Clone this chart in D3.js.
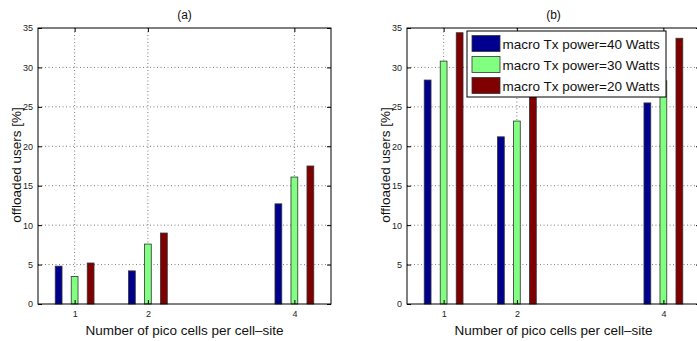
<!DOCTYPE html>
<html>
<head>
<meta charset="utf-8">
<script src="https://cdn.jsdelivr.net/npm/d3@7"></script>
<style>
body { margin: 0; background: #fff; }
svg { display: block; font-family: "Liberation Sans", Arial, sans-serif; }
</style>
</head>
<body>
<svg id="chart" width="697" height="341"></svg>
<script>
// data
var picoCells = [1, 2, 4];
var seriesNames = ["macro Tx power=40 Watts", "macro Tx power=30 Watts", "macro Tx power=20 Watts"];
var seriesColors = ["#00008f", "#80ff80", "#800000"];
var panelA = [
  [4.8, 4.2, 12.7],
  [3.5, 7.6, 16.1],
  [5.2, 9.0, 17.5]
];
var panelB = [
  [28.4, 21.2, 25.5],
  [30.8, 23.2, 28.3],
  [34.4, 29.5, 33.7]
];
var yTicks = [0, 5, 10, 15, 20, 25, 30, 35];
var titles = ["(a)", "(b)"];

var svg = d3.select("#chart");

var plotTop = 28, plotBottom = 304;
var y = d3.scaleLinear().domain([0, 35]).range([plotBottom, plotTop]);

function drawPanel(left, right, data, title, withLegend) {
  var x = d3.scaleLinear().domain([0.5, 4.5]).range([left, right]);
  var g = svg.append("g");
  var unit = x(2) - x(1);
  var offset = 16 / unit, barW = 6.8 / unit;

  // grid
  g.selectAll(".gy").data(yTicks.slice(1, -1)).enter().append("line")
    .attr("x1", left).attr("x2", right)
    .attr("y1", function(d) { return y(d); }).attr("y2", function(d) { return y(d); })
    .attr("stroke", "#444").attr("stroke-width", 0.7).attr("stroke-dasharray", "1,2.5");
  g.selectAll(".gx").data(picoCells).enter().append("line")
    .attr("x1", function(d) { return x(d); }).attr("x2", function(d) { return x(d); })
    .attr("y1", plotTop).attr("y2", plotBottom)
    .attr("stroke", "#444").attr("stroke-width", 0.7).attr("stroke-dasharray", "1,2.5");

  // bars
  data.forEach(function(vals, s) {
    g.selectAll(".b" + s).data(vals).enter().append("rect")
      .attr("x", function(d, i) { return x(picoCells[i] + (s - 1) * offset - barW / 2); })
      .attr("y", function(d) { return y(d); })
      .attr("width", barW * unit)
      .attr("height", function(d) { return plotBottom - y(d); })
      .attr("fill", seriesColors[s])
      .attr("stroke", "#333").attr("stroke-width", 0.8);
  });

  // box
  g.append("rect").attr("x", left).attr("y", plotTop)
    .attr("width", right - left).attr("height", plotBottom - plotTop)
    .attr("fill", "none").attr("stroke", "#000").attr("stroke-width", 1);

  var yAxis = d3.axisLeft(y).tickValues(yTicks).tickSize(-4).tickPadding(5);
  g.append("g").attr("transform", "translate(" + left + ",0)").call(yAxis)
    .call(function(a) { a.select(".domain").remove(); })
    .selectAll("text").attr("font-size", 9).attr("font-family", "Liberation Sans, Arial, sans-serif").attr("fill", "#222");
  g.append("g").attr("transform", "translate(" + right + ",0)")
    .call(d3.axisRight(y).tickValues(yTicks).tickSize(-4).tickFormat(""))
    .select(".domain").remove();

  var xAxis = d3.axisBottom(x).tickValues(picoCells).tickFormat(d3.format("d")).tickSize(-4).tickPadding(7);
  g.append("g").attr("transform", "translate(0," + plotBottom + ")").call(xAxis)
    .call(function(a) { a.select(".domain").remove(); })
    .selectAll("text").attr("font-size", 9).attr("font-family", "Liberation Sans, Arial, sans-serif").attr("fill", "#222");
  g.append("g").attr("transform", "translate(0," + plotTop + ")")
    .call(d3.axisTop(x).tickValues(picoCells).tickSize(-4).tickFormat(""))
    .select(".domain").remove();

  var cx = x(2.5);
  g.append("text").attr("x", cx).attr("y", 19).attr("text-anchor", "middle")
    .attr("font-size", 12).attr("fill", "#111").text(title);
  g.append("text").attr("x", cx).attr("y", 335).attr("text-anchor", "middle")
    .attr("font-size", 13.5).attr("fill", "#111").text("Number of pico cells per cell\u2013site");
  g.append("text").attr("transform", "translate(" + (left - 17) + "," + ((plotTop + plotBottom) / 2 - 1) + ") rotate(-90)")
    .attr("text-anchor", "middle").attr("font-size", 13.5).attr("fill", "#111").text("offloaded users [%]");

  if (withLegend) {
    var lg = g.append("g").attr("transform", "translate(467,31)");
    lg.append("rect").attr("width", 199).attr("height", 66)
      .attr("fill", "#fff").attr("stroke", "#000").attr("stroke-width", 1);
    seriesNames.forEach(function(name, s) {
      lg.append("rect").attr("x", 5).attr("y", 4.5 + s * 21).attr("width", 28).attr("height", 16)
        .attr("fill", seriesColors[s]).attr("stroke", "#333").attr("stroke-width", 0.8);
      lg.append("text").attr("x", 35.5).attr("y", 17.5 + s * 21)
        .attr("font-size", 13.5).attr("fill", "#111").text(name);
    });
  }
}

drawPanel(38, 331, panelA, titles[0], false);
drawPanel(407, 700, panelB, titles[1], true);
</script>
</body>
</html>
